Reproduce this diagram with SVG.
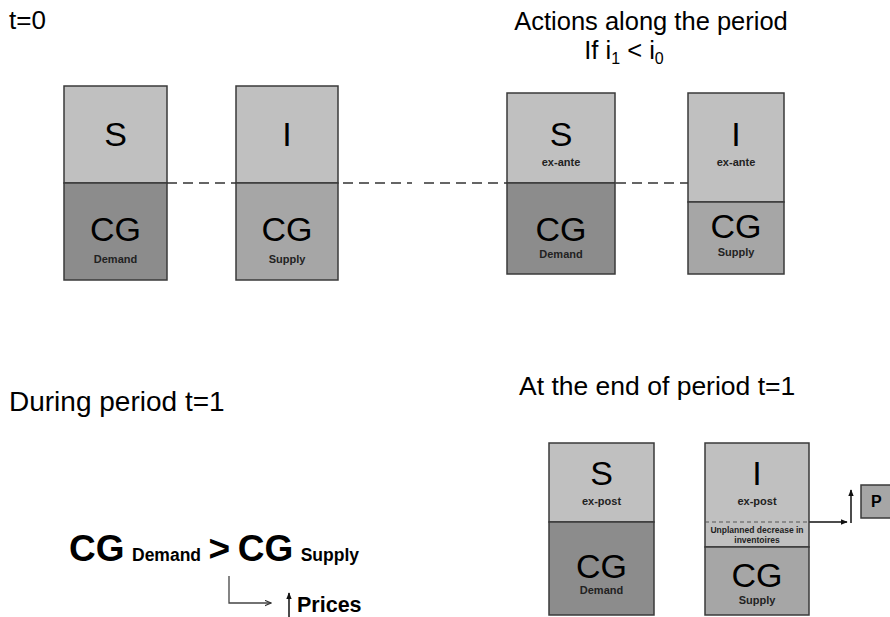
<svg xmlns="http://www.w3.org/2000/svg" width="890" height="617" viewBox="0 0 890 617">
  <style>
    text { font-family: "Liberation Sans", Arial, sans-serif; fill: #000; }
    .big { font-size: 34px; text-anchor: middle; }
    .sub { font-size: 11px; font-weight: bold; text-anchor: middle; fill: #222; }
    .tiny { font-size: 8.5px; font-weight: bold; text-anchor: middle; fill: #222; }
    .light { fill: #c0c0c0; stroke: #3a3a3a; stroke-width: 1.5; }
    .dark { fill: #8c8c8c; stroke: #3a3a3a; stroke-width: 1.5; }
    .mid { fill: #a6a6a6; stroke: #3a3a3a; stroke-width: 1.5; }
    .dash { stroke: #333; stroke-width: 1.5; stroke-dasharray: 10 6; fill: none; }
    .conn { stroke: #444; stroke-width: 1.3; fill: none; }
  </style>
  <defs>
    <marker id="arr" viewBox="0 0 10 10" refX="9" refY="5" markerWidth="7" markerHeight="7" orient="auto" markerUnits="userSpaceOnUse">
      <path d="M0,1 L9,5 L0,9" fill="none" stroke="#333" stroke-width="1.5"/>
    </marker>
    <marker id="arrSolid" viewBox="0 0 10 10" refX="9" refY="5" markerWidth="7" markerHeight="7" orient="auto" markerUnits="userSpaceOnUse">
      <path d="M0,1 L10,5 L0,9 Z" fill="#111"/>
    </marker>
  </defs>

  <!-- headings -->
  <text x="9" y="29" font-size="26">t=0</text>
  <text x="651" y="30" font-size="25.5" text-anchor="middle">Actions along the period</text>
  <text x="624" y="59" font-size="25.5" text-anchor="middle">If i<tspan font-size="16" dy="5">1</tspan><tspan dy="-5"> &lt; i</tspan><tspan font-size="16" dy="5">0</tspan></text>
  <text x="9" y="411" font-size="28">During period t=1</text>
  <text x="519" y="395" font-size="26.5">At the end of period t=1</text>

  <!-- connectors -->
  <g id="connectors">
    <line class="dash" x1="167" y1="183" x2="412" y2="183"/>
    <line class="dash" x1="424" y1="183" x2="688" y2="183"/>
    <polyline class="conn" points="229,576 229,603 271,603" marker-end="url(#arr)"/>
    <line x1="289" y1="617" x2="289" y2="593" stroke="#111" stroke-width="1.5" marker-end="url(#arrSolid)"/>
    <line x1="809" y1="522" x2="847" y2="522" stroke="#111" stroke-width="1.5" marker-end="url(#arrSolid)"/>
    <line x1="851" y1="523" x2="851" y2="490" stroke="#111" stroke-width="1.5" marker-end="url(#arrSolid)"/>
  </g>

  <!-- t=0: savings / consumption demand -->
  <g id="t0-demand">
    <rect class="light" x="64" y="86" width="103" height="97"/>
    <rect class="dark" x="64" y="183" width="103" height="97"/>
    <text class="big" x="115.5" y="146">S</text>
    <text class="big" x="115.5" y="241">CG</text>
    <text class="sub" x="115.5" y="263">Demand</text>
  </g>

  <!-- t=0: investment / consumption supply -->
  <g id="t0-supply">
    <rect class="light" x="236" y="86" width="102" height="97"/>
    <rect class="mid" x="236" y="183" width="102" height="97"/>
    <text class="big" x="287" y="146">I</text>
    <text class="big" x="287" y="241">CG</text>
    <text class="sub" x="287" y="263">Supply</text>
  </g>

  <!-- along the period: ex-ante demand -->
  <g id="exante-demand">
    <rect class="light" x="507" y="93" width="108" height="90"/>
    <rect class="dark" x="507" y="183" width="108" height="91"/>
    <text class="big" x="561" y="146">S</text>
    <text class="sub" x="561" y="166" font-size="10">ex-ante</text>
    <text class="big" x="561" y="241">CG</text>
    <text class="sub" x="561" y="258">Demand</text>
  </g>

  <!-- along the period: ex-ante supply -->
  <g id="exante-supply">
    <rect class="light" x="688" y="93" width="96" height="109"/>
    <rect class="mid" x="688" y="202" width="96" height="72"/>
    <text class="big" x="736" y="146">I</text>
    <text class="sub" x="736" y="166" font-size="10">ex-ante</text>
    <text class="big" x="736" y="238">CG</text>
    <text class="sub" x="736" y="256">Supply</text>
  </g>

  <!-- during t=1 -->
  <g id="inequality">
    <text x="69" y="561" font-size="37" font-weight="bold">CG<tspan font-size="17.5" dx="7.5">Demand</tspan><tspan dx="7.5">&gt;</tspan><tspan dx="7.5">CG</tspan><tspan font-size="17.5" dx="7.5">Supply</tspan></text>
  </g>
  <g id="prices">
    <text x="297" y="612" font-size="21.5" font-weight="bold">Prices</text>
  </g>

  <!-- end of period: ex-post demand -->
  <g id="expost-demand">
    <rect class="light" x="549" y="443" width="105" height="79"/>
    <rect class="dark" x="549" y="522" width="105" height="93"/>
    <text class="big" x="601.5" y="485">S</text>
    <text class="sub" x="601.5" y="505">ex-post</text>
    <text class="big" x="601.5" y="578">CG</text>
    <text class="sub" x="601.5" y="594">Demand</text>
  </g>

  <!-- end of period: ex-post supply with inventory drawdown -->
  <g id="expost-supply">
    <rect class="light" x="705" y="443" width="104" height="104"/>
    <rect class="mid" x="705" y="547" width="104" height="68"/>
    <line x1="705" y1="522" x2="809" y2="522" stroke="#555" stroke-width="1" stroke-dasharray="4 3"/>
    <text class="big" x="757" y="485">I</text>
    <text class="sub" x="757" y="505">ex-post</text>
    <text class="tiny" x="757" y="533">Unplanned decrease in</text>
    <text class="tiny" x="757" y="543">inventoires</text>
    <text class="big" x="757" y="587">CG</text>
    <text class="sub" x="757" y="604">Supply</text>
  </g>

  <!-- price level -->
  <g id="price-box">
    <rect class="mid" x="861" y="485" width="35" height="33"/>
    <text x="871" y="507" font-size="16" font-weight="bold">P</text>
  </g>
</svg>
